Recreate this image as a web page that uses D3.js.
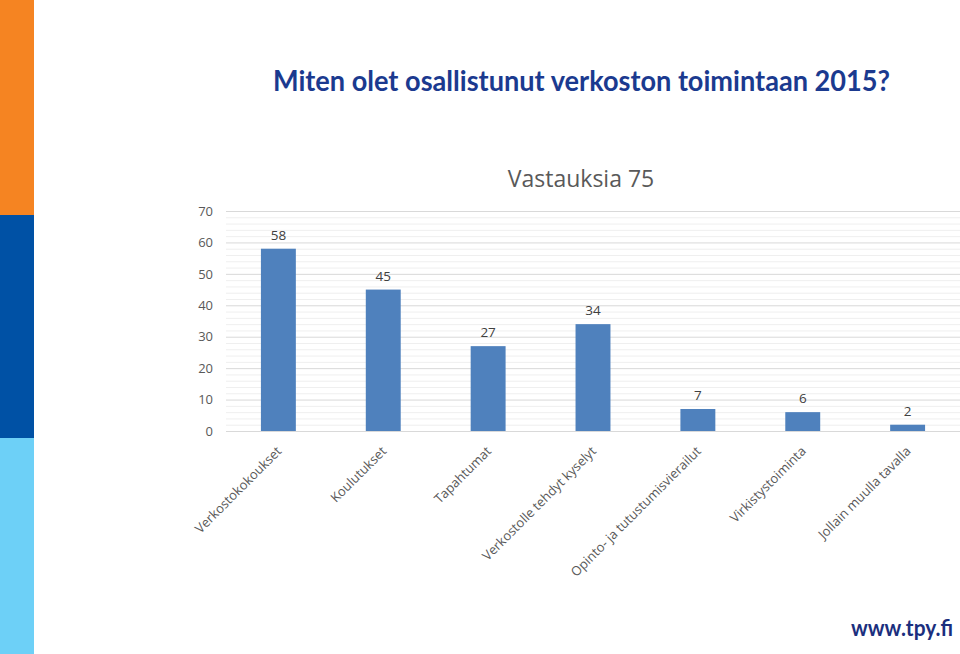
<!DOCTYPE html>
<html><head><meta charset="utf-8">
<script src="https://cdn.jsdelivr.net/npm/d3@7"></script>
<style>body{margin:0;background:#fff;}svg{display:block;}</style>
</head><body>
<svg id="c" width="960" height="654"></svg>
<script>
const categories = ["Verkostokokoukset","Koulutukset","Tapahtumat","Verkostolle tehdyt kyselyt","Opinto- ja tutustumisvierailut","Virkistystoiminta","Jollain muulla tavalla"];
const values = [58,45,27,34,7,6,2];
const yTicks = [0,10,20,30,40,50,60,70];
const minorTicks = d3.range(0,71,2);
const titleText = "Miten olet osallistunut verkoston toimintaan 2015?";
const chartTitle = "Vastauksia 75";
const footer = "www.tpy.fi";

const svg = d3.select("#c");
svg.append("rect").attr("x",0).attr("y",0).attr("width",34).attr("height",215).attr("fill","#f58422");
svg.append("rect").attr("x",0).attr("y",215).attr("width",34).attr("height",223).attr("fill","#0051a5");
svg.append("rect").attr("x",0).attr("y",438).attr("width",34).attr("height",216).attr("fill","#6dd0f7");

svg.append("text").attr("x",273).attr("y",91).text(titleText)
  .attr("font-family","Lato, sans-serif").attr("font-weight","bold")
  .attr("font-size",29).attr("fill","#1b3a8f")
  .attr("textLength",617).attr("lengthAdjust","spacingAndGlyphs");

svg.append("text").attr("x",581).attr("y",187).attr("text-anchor","middle").text(chartTitle)
  .attr("font-family","Open Sans, sans-serif").attr("font-size",23).attr("fill","#595959");

const x = d3.scaleBand().domain(categories).range([226,960]).paddingInner(0.667).paddingOuter(0.333);
const y = d3.scaleLinear().domain([0,70]).range([431,211]);

const g = svg.append("g");
g.selectAll("line.minor").data(minorTicks).join("line")
  .attr("x1",226).attr("x2",960).attr("y1",d=>y(d)+0.5).attr("y2",d=>y(d)+0.5)
  .attr("stroke",d=>d%10===0?"#d9d9d9":"#efefef").attr("stroke-width",1);

const yAxis = d3.axisLeft(y).tickValues(yTicks).tickSize(0).tickPadding(13);
const ya = svg.append("g").attr("transform","translate(226,0)").call(yAxis);
ya.select(".domain").remove();
ya.selectAll("text").attr("font-family","Open Sans, sans-serif").attr("font-size",13).attr("fill","#595959");

g.selectAll("rect.bar").data(values).join("rect")
  .attr("x",(d,i)=>x(categories[i])).attr("width",x.bandwidth())
  .attr("y",d=>y(d)).attr("height",d=>y(0)-y(d)).attr("fill","#4f81bd");

g.selectAll("text.lbl").data(values).join("text")
  .attr("x",(d,i)=>x(categories[i])+x.bandwidth()/2).attr("y",d=>y(d)-9)
  .attr("text-anchor","middle").text(d=>d)
  .attr("font-family","Open Sans, sans-serif").attr("font-size",13.5).attr("fill","#404040");

const xAxis = d3.axisBottom(x).tickSize(0).tickPadding(0);
const xa = svg.append("g").attr("transform","translate(0,431)").call(xAxis);
xa.select(".domain").remove();
xa.selectAll("text")
  .attr("font-family","Open Sans, sans-serif").attr("font-size",13).attr("fill","#595959")
  .attr("text-anchor","end").attr("dy",null).attr("y",0)
  .attr("transform","translate(4,21) rotate(-45)");

svg.append("text").attr("x",953).attr("y",636).attr("text-anchor","end").text(footer)
  .attr("font-family","Lato, sans-serif").attr("font-weight","bold")
  .attr("font-size",22).attr("fill","#1b2f7e")
  .attr("textLength",102).attr("lengthAdjust","spacingAndGlyphs");
</script>
</body></html>
